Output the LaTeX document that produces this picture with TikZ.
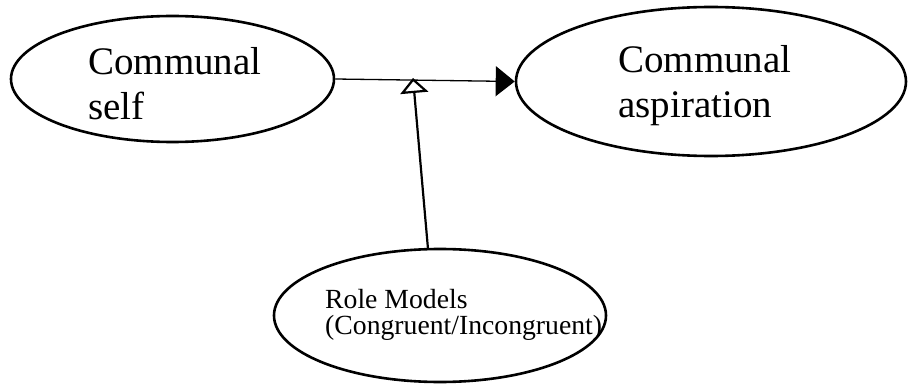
\documentclass[tikz,border=0pt]{standalone}
\usepackage{fontspec}
\setmainfont{Liberation Serif}
\usetikzlibrary{shapes.geometric,arrows.meta}
\begin{document}
\begin{tikzpicture}[x=1pt,y=-1pt,
  oval/.style={draw,ellipse,line width=2.6pt,inner sep=0pt},
  bigtext/.style={anchor=base west,inner sep=0pt,align=left,font=\fontsize{39}{45}\selectfont},
  smalltext/.style={anchor=base west,inner sep=0pt,align=left,font=\fontsize{27.7}{26}\selectfont},
  link/.style={line width=1.3pt},
  modlink/.style={line width=2.2pt}]
\useasboundingbox (0,0) rectangle (908,385);
\node[oval,minimum width=323pt,minimum height=126pt] (self) at (172.5,79) {};
\node[oval,minimum width=390pt,minimum height=149pt] (asp) at (711,81.5) {};
\node[oval,minimum width=332pt,minimum height=133pt] (role) at (440,315.5) {};
\node[bigtext] (tself) at (88,120) {Communal\\self};
\node[bigtext] (tasp) at (618,118) {Communal\\aspiration};
\node[smalltext] (trole) at (325,334) {Role Models\\(Congruent/Incongruent)};
\coordinate (tip) at (413,78);
\coordinate (rbase) at (428,249);
\draw[link,-{Triangle[length=19pt,width=30pt]}] (self.east) -- (asp.west);
\draw[modlink,-{Triangle[open,length=15pt,width=28pt,fill=white]}] (rbase) -- (tip);
\end{tikzpicture}
\end{document}
